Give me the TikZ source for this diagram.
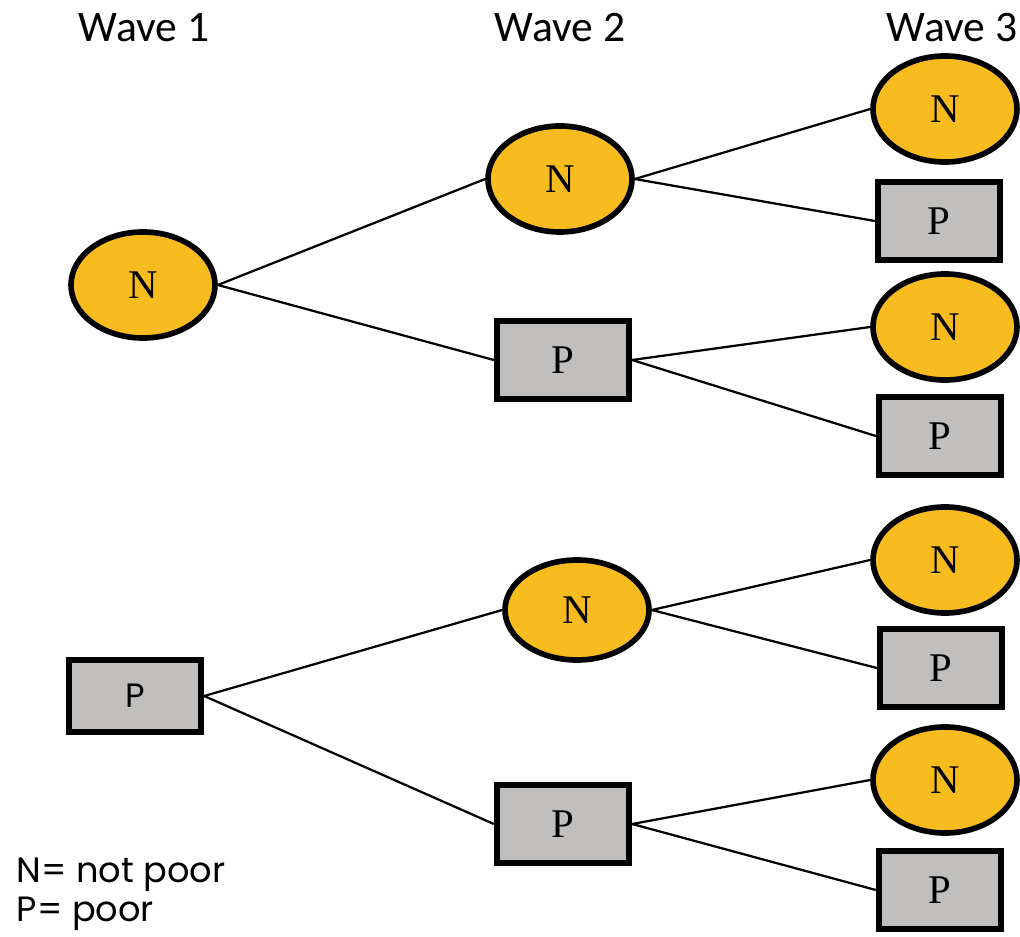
\documentclass[tikz,border=0pt]{standalone}
\usepackage{fontspec}
\setmainfont{Liberation Serif}
\newfontfamily\wavefont{Carlito}
\newfontfamily\keyfont{Poppins}
\usetikzlibrary{shapes.geometric}
\definecolor{notpoorfill}{RGB}{249,188,30}
\definecolor{poorfill}{RGB}{193,191,189}

\begin{document}
\begin{tikzpicture}[x=0.025cm, y=-0.025cm,
    notpoor/.style={ellipse, draw, line width=4pt, fill=notpoorfill,
        minimum width=3.6cm, minimum height=2.65cm, inner sep=0pt,
        font=\fontsize{29}{32}\selectfont},
    poor/.style={rectangle, draw, line width=4.5pt, fill=poorfill,
        minimum width=3.3cm, minimum height=1.95cm, inner sep=0pt,
        font=\fontsize{29}{32}\selectfont},
    wave/.style={font=\wavefont\fontsize{31}{34}\selectfont},
    link/.style={line width=1.6pt}
]

\useasboundingbox (0,0) rectangle (1020,937);

% Wave headings
\node[wave] (h1) at (144,28) {Wave 1};
\node[wave] (h2) at (560,28) {Wave 2};
\node[wave] (h3) at (952,28) {Wave 3};

% Wave 1
\node[notpoor] (a) at (143,285) {N};
\node[poor, font=\keyfont\fontsize{24}{28}\selectfont, minimum height=1.8cm] (b) at (135,696) {P};

% Wave 2
\node[notpoor] (aa) at (560,179) {N};
\node[poor] (ab) at (563,360) {P};
\node[notpoor, minimum height=2.5cm] (ba) at (577,610) {N};
\node[poor] (bb) at (563,824) {P};

% Wave 3
\node[notpoor] (aaa) at (945,109) {N};
\node[poor, minimum width=3.05cm] (aab) at (939,221) {P};
\node[notpoor] (aba) at (945,327) {N};
\node[poor, minimum width=3.05cm] (abb) at (940,436) {P};
\node[notpoor] (baa) at (945,560) {N};
\node[poor, minimum width=3.05cm] (bab) at (941,668) {P};
\node[notpoor] (bba) at (945,780) {N};
\node[poor, minimum width=3.05cm] (bbb) at (940,890) {P};

% Branches
\foreach \from/\to in {a/aa, a/ab, b/ba, b/bb,
    aa/aaa, aa/aab, ab/aba, ab/abb, ba/baa, ba/bab, bb/bba, bb/bbb}
    \draw[link] (\from.east) -- (\to.west);

% Key
\node[font=\keyfont\fontsize{25}{28}\selectfont, anchor=west] (k1) at (12,875) {N= not poor};
\node[font=\keyfont\fontsize{25}{28}\selectfont, anchor=west] (k2) at (12,914) {P= poor};

\end{tikzpicture}
\end{document}
